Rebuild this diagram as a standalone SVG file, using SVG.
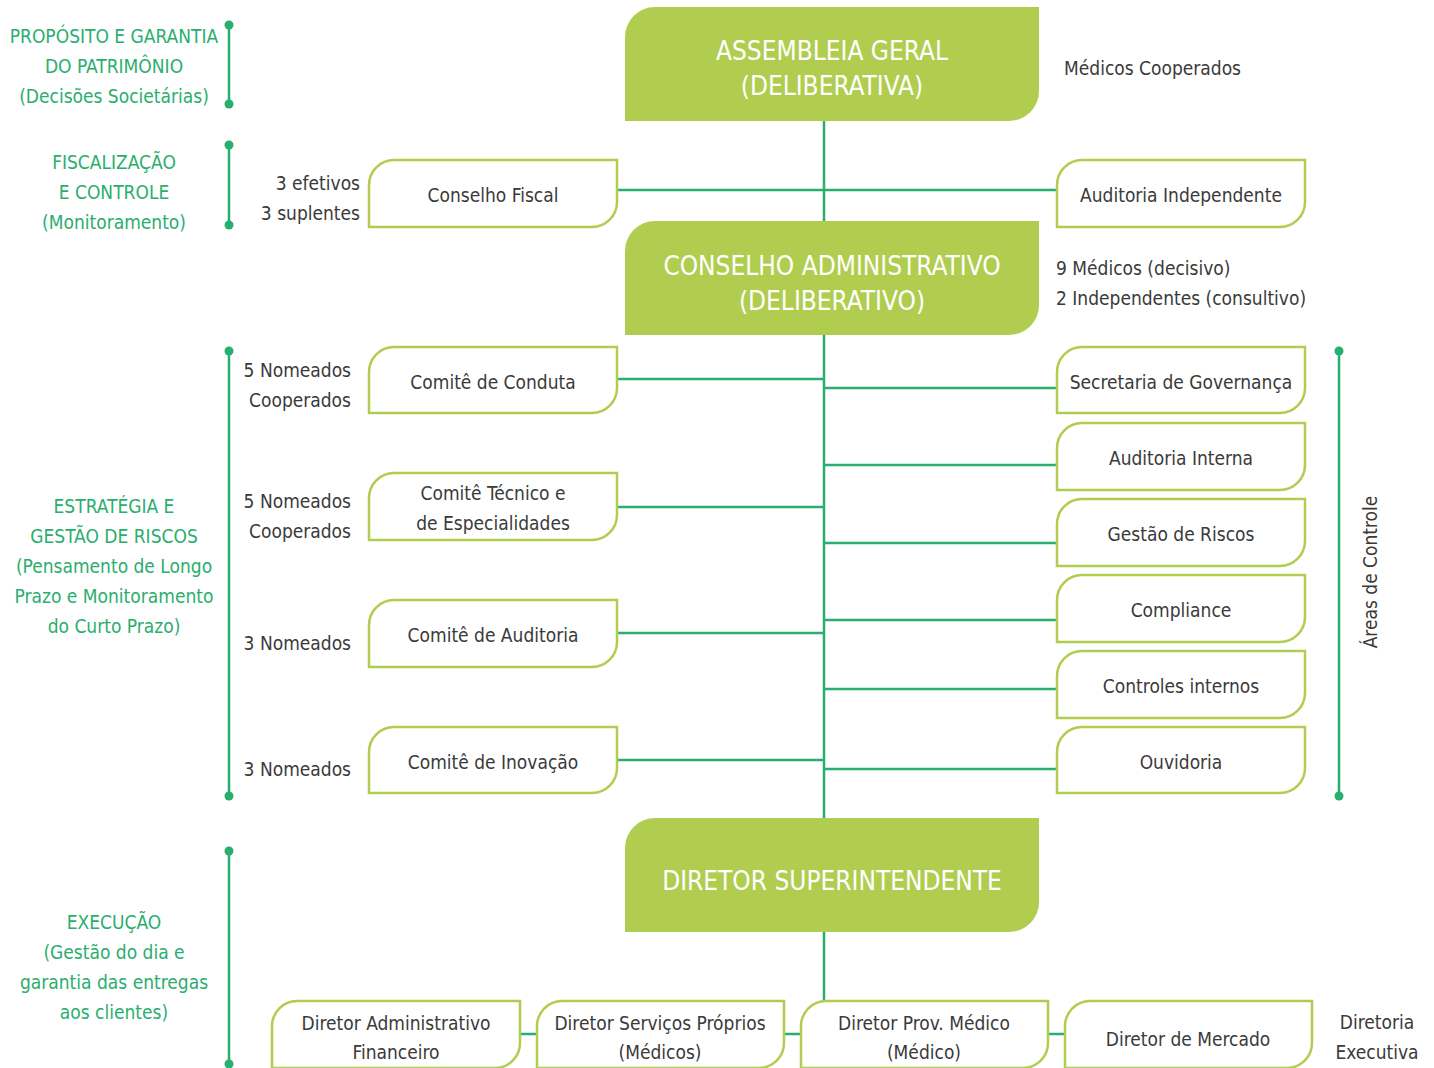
<svg xmlns="http://www.w3.org/2000/svg" width="1434" height="1068" viewBox="0 0 1434 1068">
<style>
text{font-family:"Liberation Sans Narrow","DejaVu Sans Condensed","Liberation Sans",sans-serif;font-stretch:condensed}
.big{fill:#b0cd4f}
.bt{fill:#fff;font-size:26px;text-anchor:middle}
.box{fill:#fff;stroke:#b0cd4f;stroke-width:2.5}
.t{fill:#3a3a3a;font-size:19px;text-anchor:middle}
.r{fill:#3a3a3a;font-size:19px;text-anchor:end}
.l{fill:#3a3a3a;font-size:19px;text-anchor:start}
.g{fill:#2aae6e;font-size:19px;text-anchor:middle}
.ln{stroke:#2aae6e;stroke-width:2.5;fill:none}
.dot{fill:#2aae6e}
</style>
<rect width="1434" height="1068" fill="#fff"/>
<g id="connectors">
<path class="ln" d="M824 121V818M824 932V1002"/>
<path class="ln" d="M617 190H1057"/>
<path class="ln" d="M617 379H824M617 507H824M617 633H824M617 760H824"/>
<path class="ln" d="M824 388H1057M824 465H1057M824 543H1057M824 620H1057M824 689H1057M824 769H1057"/>
<path class="ln" d="M520 1034H537M784 1034H801M1048 1034H1065"/>
</g>
<g id="brackets">
<path class="ln" d="M229 25V104M229 145V225M229 351V796M229 851V1064M1339 351V796"/>
<circle class="dot" cx="229" cy="25" r="4.5"/><circle class="dot" cx="229" cy="104" r="4.5"/>
<circle class="dot" cx="229" cy="145" r="4.5"/><circle class="dot" cx="229" cy="225" r="4.5"/>
<circle class="dot" cx="229" cy="351" r="4.5"/><circle class="dot" cx="229" cy="796" r="4.5"/>
<circle class="dot" cx="229" cy="851" r="4.5"/><circle class="dot" cx="229" cy="1064" r="4.5"/>
<circle class="dot" cx="1339" cy="351" r="4.5"/><circle class="dot" cx="1339" cy="796" r="4.5"/>
</g>
<g id="side-labels">
<text class="g" x="114" y="43">PROPÓSITO E GARANTIA</text>
<text class="g" x="114" y="73">DO PATRIMÔNIO</text>
<text class="g" x="114" y="103">(Decisões Societárias)</text>
<text class="g" x="114" y="169">FISCALIZAÇÃO</text>
<text class="g" x="114" y="199">E CONTROLE</text>
<text class="g" x="114" y="229">(Monitoramento)</text>
<text class="g" x="114" y="513">ESTRATÉGIA E</text>
<text class="g" x="114" y="543">GESTÃO DE RISCOS</text>
<text class="g" x="114" y="573">(Pensamento de Longo</text>
<text class="g" x="114" y="603">Prazo e Monitoramento</text>
<text class="g" x="114" y="633">do Curto Prazo)</text>
<text class="g" x="114" y="929">EXECUÇÃO</text>
<text class="g" x="114" y="959">(Gestão do dia e</text>
<text class="g" x="114" y="989">garantia das entregas</text>
<text class="g" x="114" y="1019">aos clientes)</text>
<text class="t" transform="translate(1377 572) rotate(-90)">Áreas de Controle</text>
</g>
<g id="notes">
<text class="r" x="360" y="190">3 efetivos</text>
<text class="r" x="360" y="220">3 suplentes</text>
<text class="r" x="351" y="377">5 Nomeados</text>
<text class="r" x="351" y="407">Cooperados</text>
<text class="r" x="351" y="508">5 Nomeados</text>
<text class="r" x="351" y="538">Cooperados</text>
<text class="r" x="351" y="650">3 Nomeados</text>
<text class="r" x="351" y="776">3 Nomeados</text>
<text class="l" x="1064" y="75">Médicos Cooperados</text>
<text class="l" x="1056" y="275">9 Médicos (decisivo)</text>
<text class="l" x="1056" y="305">2 Independentes (consultivo)</text>
<text class="t" x="1377" y="1029">Diretoria</text>
<text class="t" x="1377" y="1059">Executiva</text>
</g>
<g id="assembleia">
<path class="big" d="M625 121V37A30 30 0 0 1 655 7H1039V91A30 30 0 0 1 1009 121Z"/>
<text class="bt" x="832" y="60">ASSEMBLEIA GERAL</text>
<text class="bt" x="832" y="95">(DELIBERATIVA)</text>
</g>
<g id="conselho-adm">
<path class="big" d="M625 335V251A30 30 0 0 1 655 221H1039V305A30 30 0 0 1 1009 335Z"/>
<text class="bt" x="832" y="275">CONSELHO ADMINISTRATIVO</text>
<text class="bt" x="832" y="310">(DELIBERATIVO)</text>
</g>
<g id="diretor-super">
<path class="big" d="M625 932V848A30 30 0 0 1 655 818H1039V902A30 30 0 0 1 1009 932Z"/>
<text class="bt" x="832" y="890">DIRETOR SUPERINTENDENTE</text>
</g>
<g id="conselho-fiscal">
<path class="box" d="M369 227V185A25 25 0 0 1 394 160H617V202A25 25 0 0 1 592 227Z"/>
<text class="t" x="493" y="202">Conselho Fiscal</text>
</g>
<g id="auditoria-independente">
<path class="box" d="M1057 227V185A25 25 0 0 1 1082 160H1305V202A25 25 0 0 1 1280 227Z"/>
<text class="t" x="1181" y="202">Auditoria Independente</text>
</g>
<g id="comite-conduta">
<path class="box" d="M369 413V372A25 25 0 0 1 394 347H617V388A25 25 0 0 1 592 413Z"/>
<text class="t" x="493" y="389">Comitê de Conduta</text>
</g>
<g id="comite-tecnico">
<path class="box" d="M369 540V498A25 25 0 0 1 394 473H617V515A25 25 0 0 1 592 540Z"/>
<text class="t" x="493" y="500">Comitê Técnico e</text>
<text class="t" x="493" y="530">de Especialidades</text>
</g>
<g id="comite-auditoria">
<path class="box" d="M369 667V625A25 25 0 0 1 394 600H617V642A25 25 0 0 1 592 667Z"/>
<text class="t" x="493" y="642">Comitê de Auditoria</text>
</g>
<g id="comite-inovacao">
<path class="box" d="M369 793V752A25 25 0 0 1 394 727H617V768A25 25 0 0 1 592 793Z"/>
<text class="t" x="493" y="769">Comitê de Inovação</text>
</g>
<g id="secretaria">
<path class="box" d="M1057 413V372A25 25 0 0 1 1082 347H1305V388A25 25 0 0 1 1280 413Z"/>
<text class="t" x="1181" y="389">Secretaria de Governança</text>
</g>
<g id="auditoria-interna">
<path class="box" d="M1057 490V448A25 25 0 0 1 1082 423H1305V465A25 25 0 0 1 1280 490Z"/>
<text class="t" x="1181" y="465">Auditoria Interna</text>
</g>
<g id="gestao-riscos">
<path class="box" d="M1057 566V524A25 25 0 0 1 1082 499H1305V541A25 25 0 0 1 1280 566Z"/>
<text class="t" x="1181" y="541">Gestão de Riscos</text>
</g>
<g id="compliance">
<path class="box" d="M1057 642V600A25 25 0 0 1 1082 575H1305V617A25 25 0 0 1 1280 642Z"/>
<text class="t" x="1181" y="617">Compliance</text>
</g>
<g id="controles-internos">
<path class="box" d="M1057 718V676A25 25 0 0 1 1082 651H1305V693A25 25 0 0 1 1280 718Z"/>
<text class="t" x="1181" y="693">Controles internos</text>
</g>
<g id="ouvidoria">
<path class="box" d="M1057 793V752A25 25 0 0 1 1082 727H1305V768A25 25 0 0 1 1280 793Z"/>
<text class="t" x="1181" y="769">Ouvidoria</text>
</g>
<g id="dir-adm">
<path class="box" d="M272 1068V1026A25 25 0 0 1 297 1001H520V1043A25 25 0 0 1 495 1068Z"/>
<text class="t" x="396" y="1030">Diretor Administrativo</text>
<text class="t" x="396" y="1059">Financeiro</text>
</g>
<g id="dir-servicos">
<path class="box" d="M537 1068V1026A25 25 0 0 1 562 1001H784V1043A25 25 0 0 1 759 1068Z"/>
<text class="t" x="660" y="1030">Diretor Serviços Próprios</text>
<text class="t" x="660" y="1059">(Médicos)</text>
</g>
<g id="dir-prov">
<path class="box" d="M801 1068V1026A25 25 0 0 1 826 1001H1048V1043A25 25 0 0 1 1023 1068Z"/>
<text class="t" x="924" y="1030">Diretor Prov. Médico</text>
<text class="t" x="924" y="1059">(Médico)</text>
</g>
<g id="dir-mercado">
<path class="box" d="M1065 1068V1026A25 25 0 0 1 1090 1001H1312V1043A25 25 0 0 1 1287 1068Z"/>
<text class="t" x="1188" y="1046">Diretor de Mercado</text>
</g>
</svg>
